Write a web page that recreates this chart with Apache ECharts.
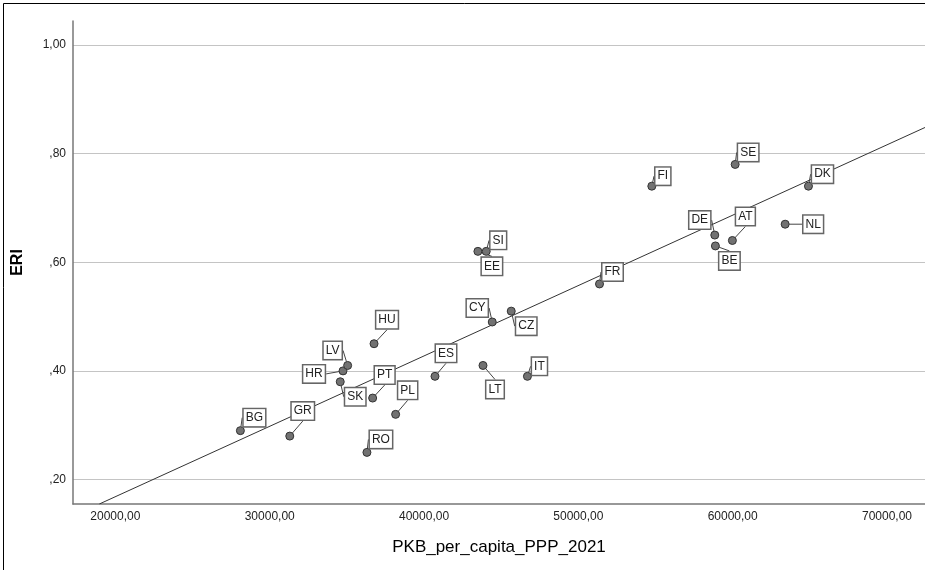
<!DOCTYPE html>
<html>
<head>
<meta charset="utf-8">
<script src="https://cdn.jsdelivr.net/npm/echarts@6/dist/echarts.min.js"></script>
<style>
html,body{margin:0;padding:0;background:#fff;}
#chart{width:925px;height:570px;}
</style>
</head>
<body>
<div id="chart"></div>
<script>
const countries = ['BG','GR','RO','HR','LV','SK','PT','PL','HU','ES','LT','IT','CY','CZ','EE','SI','FR','FI','SE','DK','NL','DE','BE','AT'];
const gdpPerCapita = [28100,31300,36300,34750,35050,34570,36670,38160,36760,40710,43820,46700,44420,45650,43490,44030,51370,54760,60160,64910,63400,58840,58880,59980];
const eri = [0.29,0.28,0.25,0.40,0.41,0.38,0.35,0.32,0.45,0.39,0.41,0.39,0.49,0.51,0.62,0.62,0.56,0.74,0.78,0.74,0.67,0.65,0.63,0.64];
const fitLine = [[18960,0.155],[72460,0.848]];
const xTicks = [20000,30000,40000,50000,60000,70000];
const yTicks = [0.2,0.4,0.6,0.8,1.0];
const labelOffsets = {
  BG:[14,-13], GR:[13,-25], RO:[14,-13], HR:[-29,3], LV:[-15,-15], SK:[15,15],
  PT:[12,-23], PL:[12,-24], HU:[13,-24], ES:[11,-23], LT:[12,24], IT:[12,-10],
  CY:[-15,-14], CZ:[15,15], EE:[14,15], SI:[12,-11], FR:[13,-12], FI:[11,-10],
  SE:[13,-12], DK:[14,-12], NL:[28,0], DE:[-15,-15], BE:[14,15], AT:[13,-24]
};

const FONT = 'Arial, "Liberation Sans", sans-serif';
const points = countries.map((c, i) => ({ name: c, value: [gdpPerCapita[i], eri[i]] }));

function fmtY(v) {
  let s = v.toFixed(2).replace('.', ',');
  if (s.startsWith('0,')) s = s.slice(1);
  return s;
}

const chart = echarts.init(document.getElementById('chart'), null, { renderer: 'canvas' });
chart.setOption({
  animation: false,
  backgroundColor: '#fff',
  grid: { left: 73, right: 0, top: 21, bottom: 66 },
  xAxis: {
    type: 'value', min: 17254, max: 72461,
    name: 'PKB_per_capita_PPP_2021', nameLocation: 'middle', nameGap: 35,
    nameTextStyle: { fontFamily: FONT, fontSize: 17, color: '#000' },
    axisLine: { show: true, lineStyle: { color: '#777', width: 1.5 } },
    axisTick: { show: false, customValues: xTicks },
    splitLine: { show: false },
    axisLabel: { customValues: xTicks, margin: 7, fontFamily: FONT, fontSize: 12, color: '#222',
      formatter: v => v.toFixed(2).replace('.', ',') }
  },
  yAxis: {
    type: 'value', min: 0.155, max: 1.044,
    name: 'ERI', nameLocation: 'middle', nameGap: 47, nameRotate: 90,
    nameTextStyle: { fontFamily: FONT, fontSize: 16, fontWeight: 'bold', color: '#000' },
    axisLine: { show: true, lineStyle: { color: '#777', width: 1.5 } },
    axisTick: { show: false, customValues: yTicks },
    splitLine: { show: true, lineStyle: { color: '#c4c4c4', width: 1 } },
    axisLabel: { customValues: yTicks, margin: 7, fontFamily: FONT, fontSize: 12, color: '#222',
      formatter: fmtY }
  },
  graphic: [{
    type: 'rect', silent: true, z: 100,
    shape: { x: 3.5, y: 3.5, width: 1000, height: 1000 },
    style: { fill: 'none', stroke: '#000', lineWidth: 1 }
  }],
  series: [
    {
      type: 'line', data: fitLine, symbol: 'none', z: 2, silent: true,
      lineStyle: { color: '#333', width: 1 }
    },
    {
      type: 'scatter', data: points, symbol: 'circle', symbolSize: 8, z: 3,
      itemStyle: { color: '#727272', borderColor: '#333', borderWidth: 1, opacity: 1 },
      label: {
        show: true, position: 'inside', formatter: p => p.name,
        fontFamily: FONT, fontSize: 12, color: '#222',
        backgroundColor: '#fff', borderColor: '#666', borderWidth: 1.5,
        padding: [3, 2, 2, 2]
      },
      labelLine: { show: true, lineStyle: { color: '#444', width: 1 } },
      labelLayout: function (params) {
        const o = labelOffsets[countries[params.dataIndex]];
        return { dx: o[0], dy: o[1] };
      }
    }
  ]
});
</script>
</body>
</html>
